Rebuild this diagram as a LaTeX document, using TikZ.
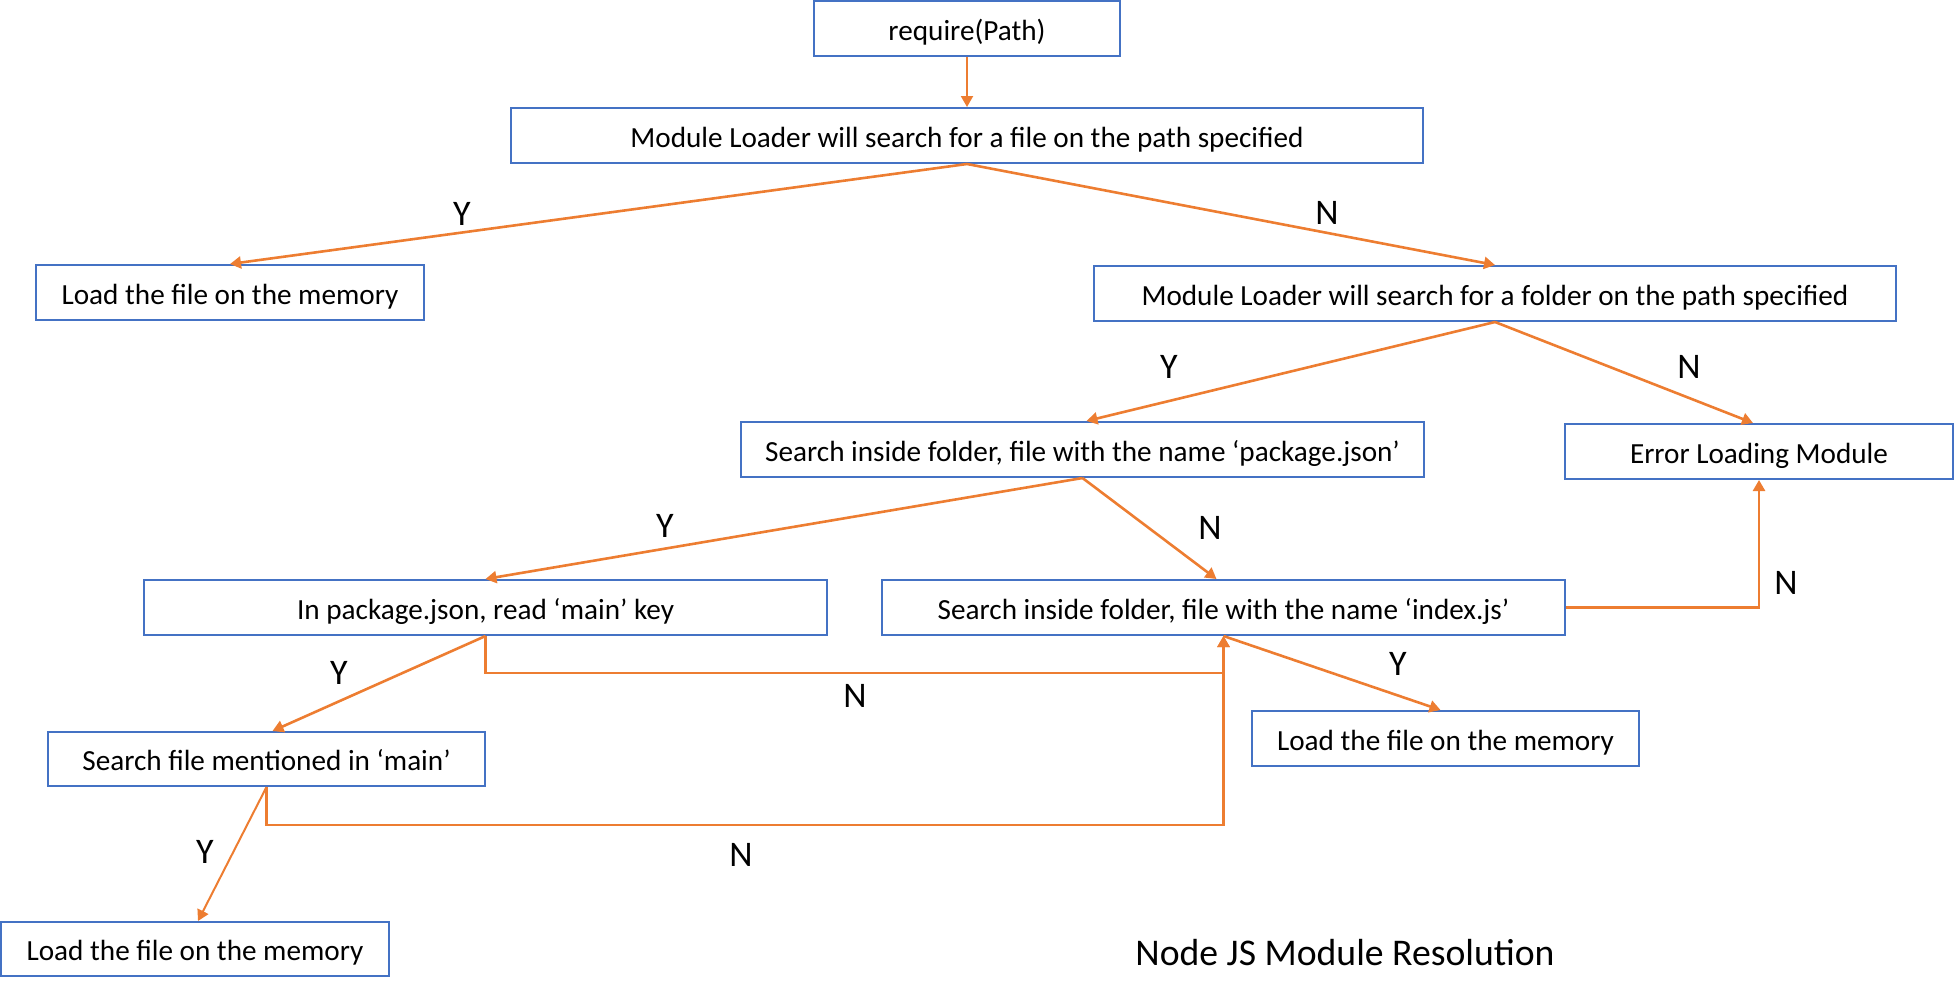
\documentclass[tikz,border=0pt]{standalone}
\usepackage{fontspec}
\setmainfont{Carlito}
\usetikzlibrary{arrows.meta,calc}
\definecolor{boxblue}{HTML}{4472C4}
\definecolor{arrorange}{HTML}{ED7D31}
\begin{document}
\begin{tikzpicture}[x=1pt,y=-1pt,
  box/.style={draw=boxblue,line width=2pt,rectangle,inner sep=0pt,minimum height=55pt,
              text height=23pt,text depth=0pt,
              font=\fontsize{29.2}{34}\selectfont,text=black},
  conn/.style={draw=arrorange,line width=2.6pt,-{Triangle[length=11pt,width=12pt]}},
  lab/.style={font=\fontsize{36}{42}\selectfont,text=black}]
\useasboundingbox (0,0) rectangle (1954,997);
% boxes
\node[box,minimum width=306pt] (req) at (967,28.5) {require(Path)};
\node[box,minimum width=912pt] (mlf) at (967,135.5) {Module Loader will search for a file on the path specified};
\node[box,minimum width=388pt] (ldl) at (230,292.5) {Load the file on the memory};
\node[box,minimum width=802pt] (mld) at (1495,293.5) {Module Loader will search for a folder on the path specified};
\node[box,minimum width=683pt] (pkg) at (1082.5,449.5) {Search inside folder, file with the name ‘package.json’};
\node[box,minimum width=388pt] (err) at (1759,451.5) {Error Loading Module};
\node[box,minimum width=683pt] (rdm) at (485.5,607.5) {In package.json, read ‘main’ key};
\node[box,minimum width=683pt] (idx) at (1223.5,607.5) {Search inside folder, file with the name ‘index.js’};
\node[box,minimum width=437pt,minimum height=54pt] (sfm) at (266.5,759) {Search file mentioned in ‘main’};
\node[box,minimum width=387pt] (ldm) at (1445.5,738.5) {Load the file on the memory};
\node[box,minimum width=388pt,minimum height=54pt] (ldb) at (195,949) {Load the file on the memory};
% connectors
\draw[conn,line width=2pt] (req.south) -- (mlf.north);
\draw[conn] (mlf.south) -- (ldl.north);
\draw[conn] (mlf.south) -- (mld.north);
\draw[conn] (mld.south) -- ([xshift=4pt]pkg.north);
\draw[conn] (mld.south) -- ([xshift=-6pt]err.north);
\draw[conn] (pkg.south) -- (rdm.north);
\draw[conn] (pkg.south) -- ([xshift=-7pt]idx.north);
\draw[conn] (idx.east) -| (err.south);
\draw[conn] (idx.south) -- ([xshift=-5pt]ldm.north);
\draw[conn] (rdm.south) -- ([xshift=6pt]sfm.north);
\draw[conn] (rdm.south) -- ++(0,37) -| (idx.south);
\draw[conn,line width=2pt] (sfm.south) -- ([xshift=3pt]ldb.north);
\draw[conn] (sfm.south) -- ++(0,38) -| (idx.south);
% labels
\node[lab] (y1) at (462,214) {Y};
\node[lab] (n1) at (1327,213) {N};
\node[lab] (y2) at (1169,367) {Y};
\node[lab] (n2) at (1689,367) {N};
\node[lab] (y3) at (665,526) {Y};
\node[lab] (n3) at (1210,528) {N};
\node[lab] (n4) at (1786,583) {N};
\node[lab] (y4) at (1398,664) {Y};
\node[lab] (y5) at (339,673) {Y};
\node[lab] (n5) at (855,696) {N};
\node[lab] (y6) at (205,852) {Y};
\node[lab] (n6) at (741,855) {N};
\node[font=\fontsize{37.7}{44}\selectfont] (title) at (1345,953) {Node JS Module Resolution};
\end{tikzpicture}
\end{document}
